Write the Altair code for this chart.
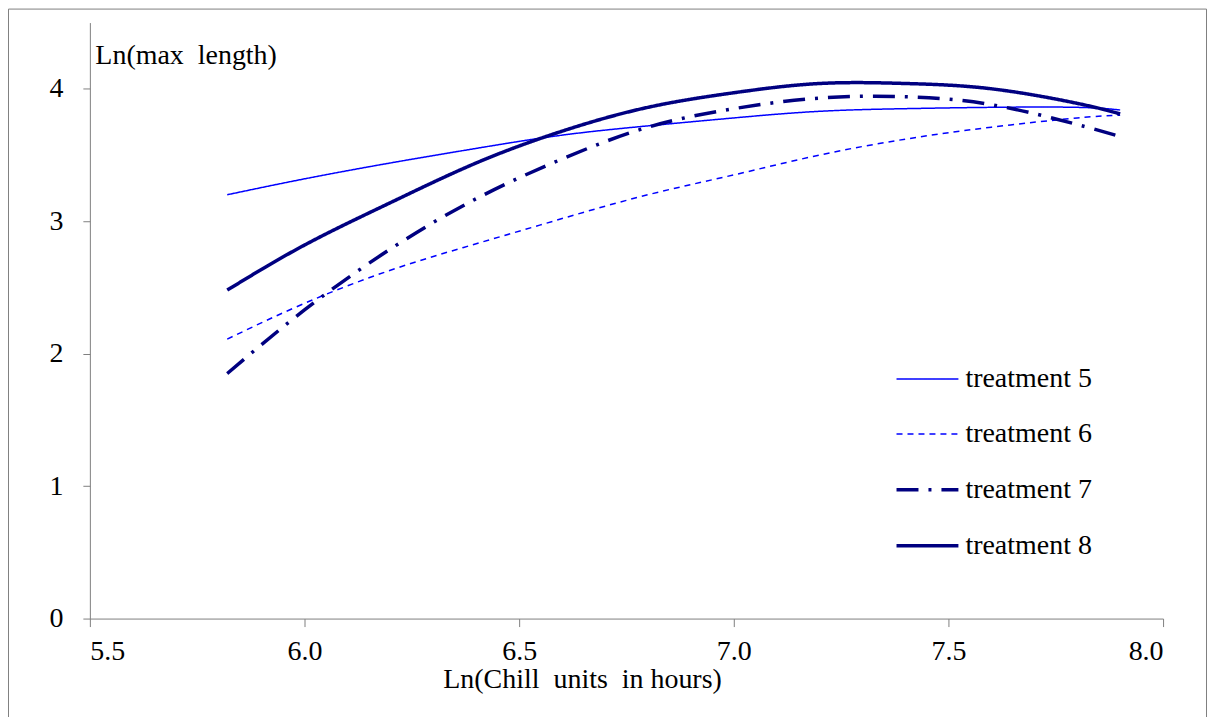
import altair as alt
import pandas as pd

x_vals = [5.82, 6.0, 6.2, 6.4, 6.6, 6.8, 7.0, 7.2, 7.4, 7.6, 7.8, 7.9]
t5 = [3.20, 3.32, 3.44, 3.55, 3.65, 3.72, 3.78, 3.83, 3.85, 3.86, 3.86, 3.84]
t6 = [2.11, 2.38, 2.63, 2.83, 3.02, 3.20, 3.35, 3.50, 3.62, 3.71, 3.78, 3.80]
t7 = [1.85, 2.33, 2.79, 3.17, 3.47, 3.71, 3.85, 3.93, 3.94, 3.88, 3.73, 3.64]
t8 = [2.48, 2.82, 3.14, 3.44, 3.68, 3.86, 3.97, 4.04, 4.04, 4.00, 3.89, 3.81]
series_names = ["treatment 5", "treatment 6", "treatment 7", "treatment 8"]
x_ticks = [5.5, 6.0, 6.5, 7.0, 7.5, 8.0]
y_ticks = [0, 1, 2, 3, 4]

rows = []
for name, vals in zip(series_names, [t5, t6, t7, t8]):
    for i, (xv, yv) in enumerate(zip(x_vals, vals)):
        rows.append({"x": xv, "y": yv, "series": name, "order": i})
df = pd.DataFrame(rows)

FONT = "Liberation Serif"
FS = 28


def leg():
    return alt.Legend(orient="none", legendX=806, legendY=325, title=None,
                      symbolType="stroke", symbolSize=3844, rowPadding=9,
                      labelOffset=5, labelFont=FONT, labelFontSize=FS,
                      labelColor="black", padding=0)


lines = alt.Chart(df).mark_line(interpolate="natural").encode(
    x=alt.X("x:Q", scale=alt.Scale(domain=[5.5, 8.0], nice=False, zero=False),
            axis=alt.Axis(values=x_ticks, format=".1f", title="Ln(Chill\u00a0\u00a0units\u00a0\u00a0in hours)",
                          grid=False, tickSize=8, labelPadding=11,
                          labelFont=FONT, titleFont=FONT,
                          titleX=493, titleY=69, titleAlign="center", titleBaseline="alphabetic",
                          titleAnchor="start")),
    y=alt.Y("y:Q", scale=alt.Scale(domain=[0, 4.5], nice=False),
            axis=alt.Axis(values=y_ticks, format="d", title="Ln(max\u00a0\u00a0length)",
                          grid=False, tickSize=7, labelPadding=20,
                          labelFont=FONT, titleFont=FONT,
                          titleAngle=0, titleX=5, titleY=41, titleAlign="left",
                          titleBaseline="alphabetic", titleAnchor="start")),
    color=alt.Color("series:N", scale=alt.Scale(domain=series_names,
                    range=["#0000FF", "#0000FF", "#000080", "#000080"]), legend=leg()),
    strokeDash=alt.StrokeDash("series:N", scale=alt.Scale(type="ordinal", domain=series_names,
                              range=[[1, 0], [6, 5], [22, 10, 3, 10], [1, 0]]), legend=leg()),
    strokeWidth=alt.StrokeWidth("series:N", scale=alt.Scale(type="ordinal", domain=series_names,
                                range=[1.5, 1.5, 3.5, 3.5]), legend=leg()),
    order="order:Q",
)

frame = alt.Chart(pd.DataFrame({"a": [0]})).mark_rect(filled=False, stroke="#808080", strokeWidth=1).encode(
    x=alt.value(-81.5), x2=alt.value(1118.5), y=alt.value(-13.5), y2=alt.value(760)
)

chart = alt.layer(frame, lines).properties(
    width=1075, height=597,
    autosize=alt.AutoSizeParams(type="none"),
    padding={"left": 82, "top": 14, "right": 44, "bottom": 98},
).configure(font=FONT).configure_view(stroke=None).configure_axis(
    labelFont=FONT, labelFontSize=FS, labelColor="black",
    titleFont=FONT, titleFontSize=FS, titleColor="black", titleFontWeight="normal",
    domainColor="#808080", tickColor="#808080", domainWidth=1, tickWidth=1,
).configure_legend(labelFont=FONT)

chart.save("out.html", embed_options={"renderer": "svg", "actions": False})
